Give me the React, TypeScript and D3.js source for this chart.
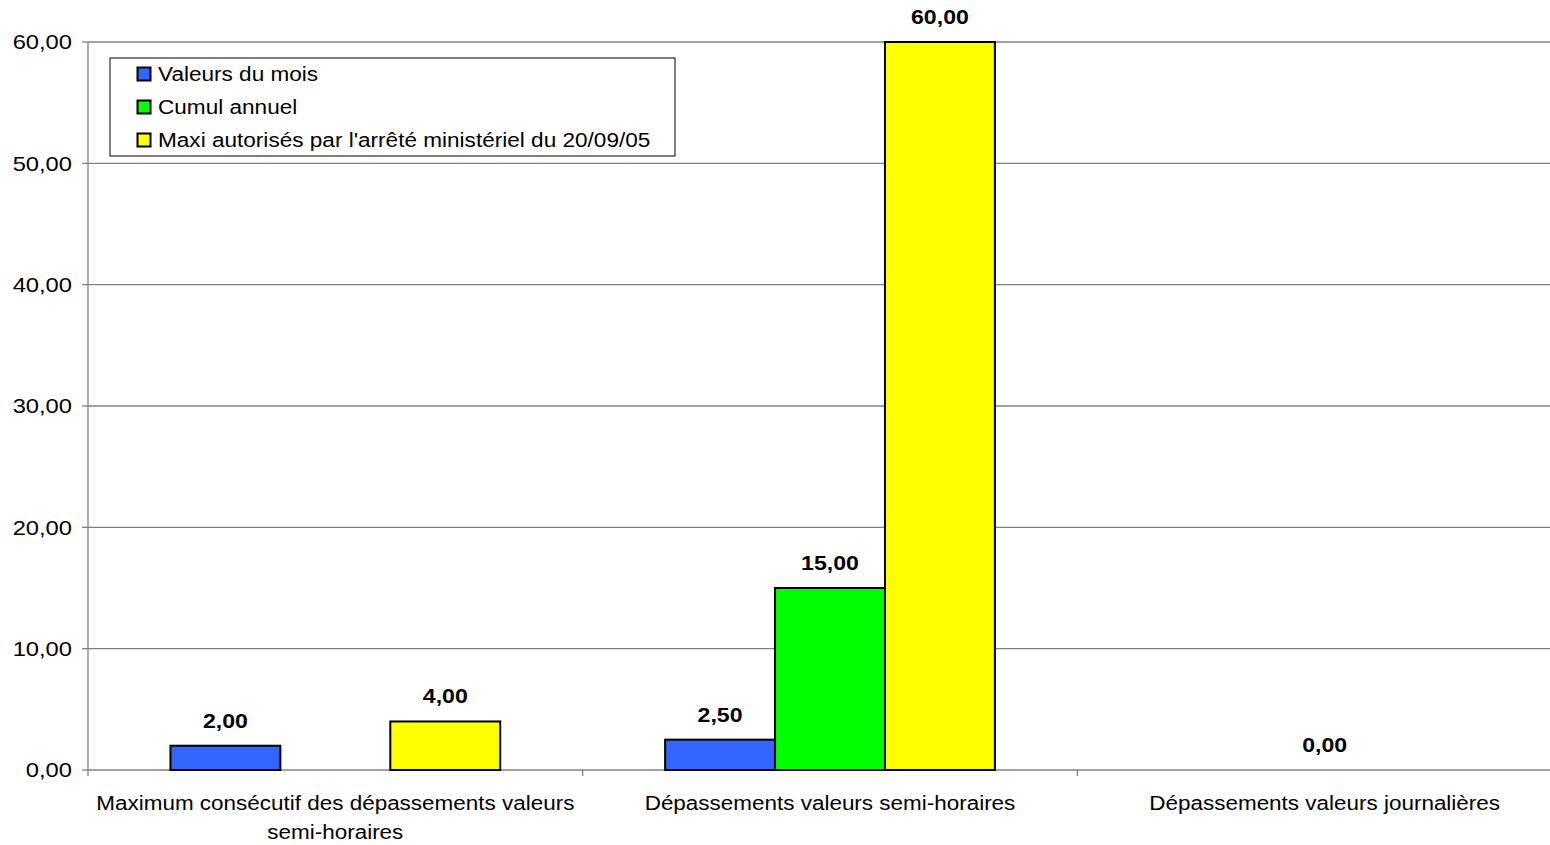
import React from "react";
import * as d3 from "d3";

const categories = [
  ["Maximum consécutif des dépassements valeurs", "semi-horaires"],
  ["Dépassements valeurs semi-horaires"],
  ["Dépassements valeurs journalières"],
];
const seriesNames = [
  "Valeurs du mois",
  "Cumul annuel",
  "Maxi autorisés par l'arrêté ministériel du 20/09/05",
];
const seriesColors = ["#3366FF", "#00FF00", "#FFFF00"];
const valeursDuMois: (number | null)[] = [2, 2.5, null];
const cumulAnnuel: (number | null)[] = [null, 15, 0];
const maxiAutorises: (number | null)[] = [4, 60, null];
const yTicks = [0, 10, 20, 30, 40, 50, 60];

const W = 1550;
const H = 845;
const left = 88;
const right = 1572;
const top = 42;
const bottom = 770;
const font = "'Liberation Sans', Arial, sans-serif";

function T(props: {
  x: number;
  y: number;
  anchor?: "start" | "middle" | "end";
  size?: number;
  sx?: number;
  bold?: boolean;
  dy?: string;
  children: React.ReactNode;
}) {
  const { x, y, anchor = "start", size = 21, sx = 1, bold = false, dy, children } = props;
  return (
    <text
      transform={`translate(${x},${y}) scale(${sx},1)`}
      textAnchor={anchor}
      fontSize={size}
      fontWeight={bold ? "bold" : "normal"}
      dy={dy}
      fill="#000"
    >
      {children}
    </text>
  );
}

export default function App() {
  const series = [valeursDuMois, cumulAnnuel, maxiAutorises];
  const x0 = d3
    .scaleBand<number>()
    .domain(categories.map((_, i) => i))
    .range([left, right])
    .paddingInner(0)
    .paddingOuter(0);
  const x1 = d3
    .scaleBand<number>()
    .domain(seriesNames.map((_, i) => i))
    .range([0, x0.bandwidth()])
    .paddingInner(0)
    .paddingOuter(0.75);
  const y = d3.scaleLinear().domain([0, 60]).range([bottom, top]);
  const fmt = (v: number) => v.toFixed(2).replace(".", ",");

  return (
    <svg
      width={W}
      height={H}
      style={{ position: "absolute", left: 0, top: 0, background: "#fff" }}
      fontFamily={font}
    >
      <rect x={0} y={0} width={W} height={H} fill="#fff" />
      {yTicks.map((t) => (
        <g key={t}>
          <line x1={left} x2={right} y1={y(t)} y2={y(t)} stroke="#808080" strokeWidth={1.3} />
          <line x1={left - 6} x2={left} y1={y(t)} y2={y(t)} stroke="#808080" strokeWidth={1.3} />
          <T x={72} y={y(t)} dy="0.35em" anchor="end" size={21} sx={1.13}>
            {fmt(t)}
          </T>
        </g>
      ))}
      <line x1={left} x2={left} y1={top} y2={bottom} stroke="#808080" strokeWidth={1.3} />
      {[0, 1, 2, 3].map((i) => {
        const xv = i < 3 ? x0(i)! : right;
        return (
          <line key={i} x1={xv} x2={xv} y1={bottom} y2={bottom + 6} stroke="#808080" strokeWidth={1.3} />
        );
      })}
      {categories.map((_, ci) =>
        series.map((s, si) => {
          const v = s[ci];
          if (v === null) return null;
          const bx = x0(ci)! + x1(si)!;
          const bw = x1.bandwidth();
          return (
            <g key={`${ci}-${si}`}>
              {v > 0 && (
                <rect
                  x={bx}
                  y={y(v)}
                  width={bw}
                  height={y(0) - y(v)}
                  fill={seriesColors[si]}
                  stroke="#000"
                  strokeWidth={2}
                />
              )}
              <T x={bx + bw / 2} y={y(v) - 18} anchor="middle" size={21} sx={1.1} bold>
                {fmt(v)}
              </T>
            </g>
          );
        })
      )}
      {categories.map((lines, ci) =>
        lines.map((l, li) => (
          <T
            key={`${ci}-${li}`}
            x={x0(ci)! + x0.bandwidth() / 2}
            y={810 + li * 29}
            anchor="middle"
            size={21}
            sx={1.07}
          >
            {l}
          </T>
        ))
      )}
      <rect x={110} y={58} width={565} height={98} fill="#fff" stroke="#000" strokeWidth={1} />
      {seriesNames.map((n, i) => (
        <g key={n}>
          <rect
            x={137.5}
            y={67.5 + i * 33}
            width={13}
            height={13}
            fill={seriesColors[i]}
            stroke="#000"
            strokeWidth={2}
          />
          <T x={158} y={74 + i * 33} dy="0.35em" size={21} sx={1.075}>
            {n}
          </T>
        </g>
      ))}
    </svg>
  );
}
